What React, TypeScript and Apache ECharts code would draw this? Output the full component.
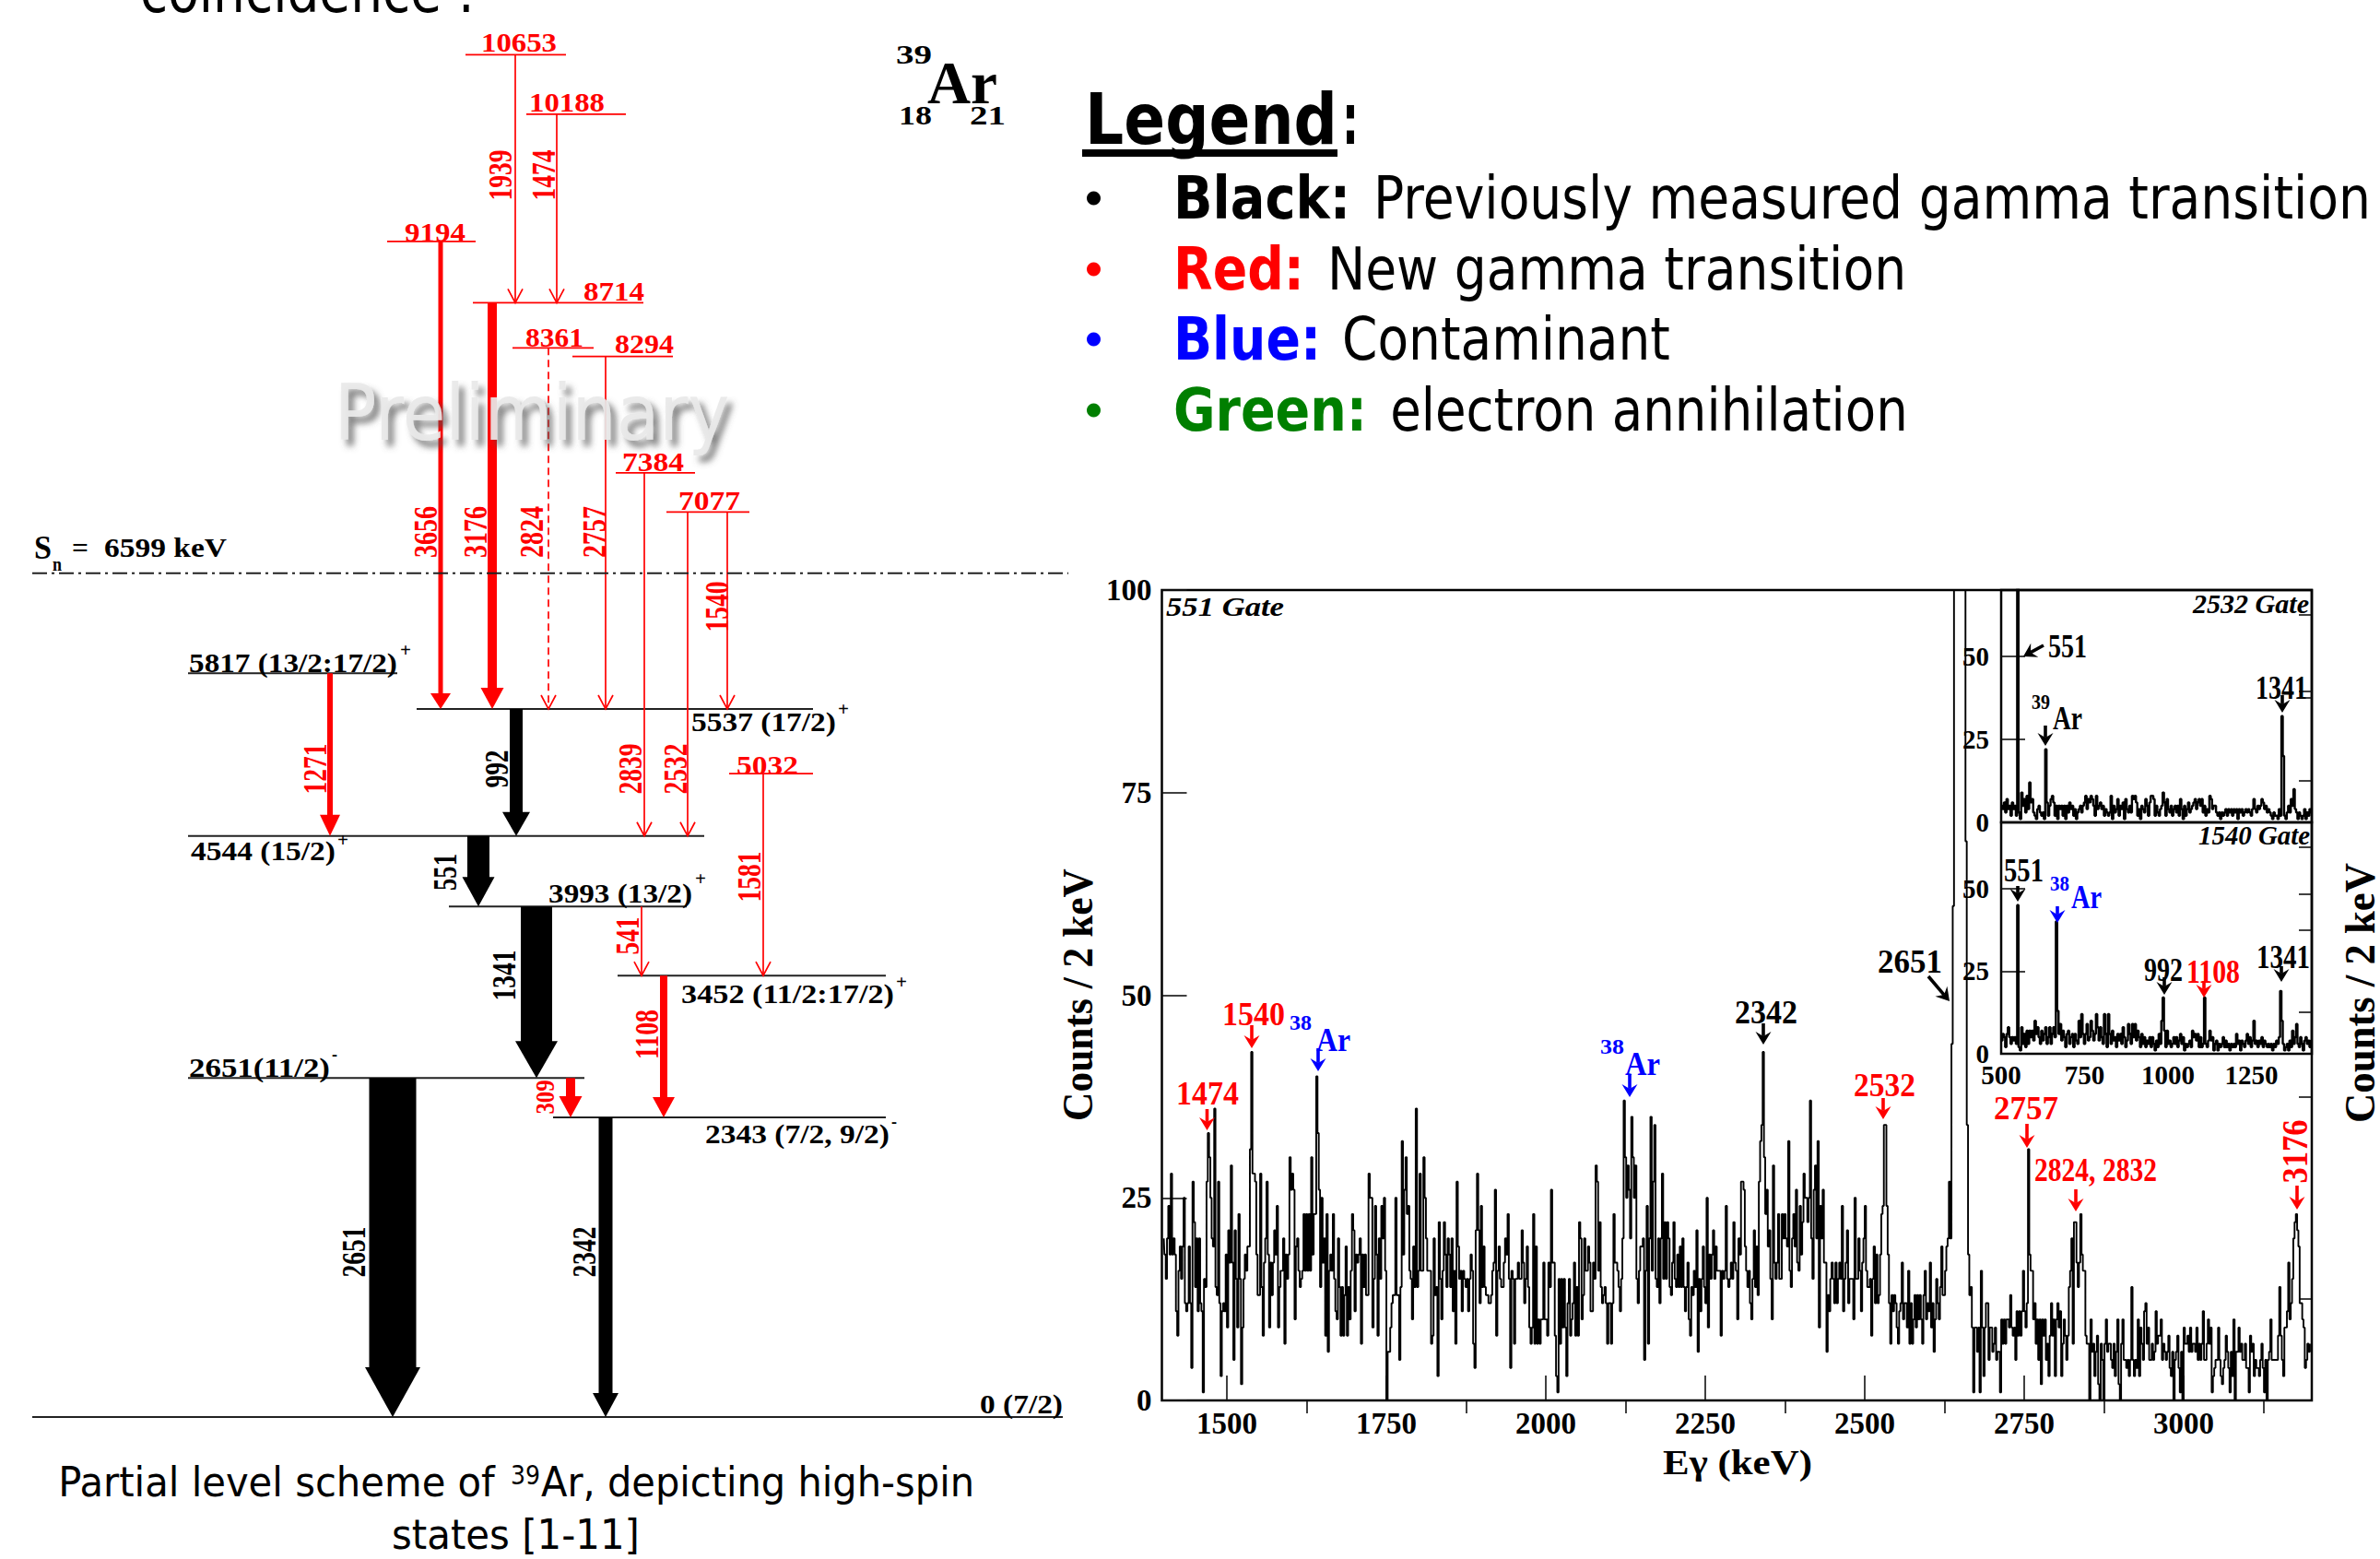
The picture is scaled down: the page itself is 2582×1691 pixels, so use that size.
import React, { useEffect, useRef } from "react";
import * as echarts from "echarts";

// ---------- spectrum 551 gate: counts per 2 keV channel, first channel 1401 keV
const gate551Part1 = [
  20,18,15,20,24,18,28,18,20,18, 11,8,16,19,15,19,25,12,11,12, 19,12,4,27,22,14,20,11,20,12,
  11,1,15,14,27,33,30,25,20,19, 36,14,13,27,12,3,11,12,11,18, 9,21,17,29,17,5,21,15,9,23,
  15,2,9,15,18,16,19,19,31,43, 28,28,27,18,13,13,28,14,8,17, 20,27,18,9,17,13,17,21,18,24,
  9,14,16,16,20,7,18,15,18,30, 26,28,26,10,19,20,16,14,15,16, 23,16,23,16,23,16,30,18,23,23,
  40,33,26,14,25,17,20,8,23,6, 16,18,16,23,15,11,10,20,14,8, 14,8,13,19,8,14,10,16,23,21,
  11,18,17,18,20,7,18,14,18,13, 13,28,25,25,9,15,24,18,8,20, 15,24,20,25,16,0,6,6,9,12,
  13,13,25,13,13,5,14,32,18,26, 30,23,24,16,15,10,19,14,36,14, 16,28,16,16,30,25,20,16,16,16,
  7,8,20,13,14,3,22,15,10,16, 22,18,14,20,18,14,
];
const gate551Part2 = [
  20,11,16,7,27,19,15,16,11,16, 15,14,15,11,15,18,16,7,4,21, 28,21,12,24,14,19,14,13,13,12,
  12,13,16,17,26,8,16,19,15,14, 14,17,20,18,23,15,4,16,15,7, 15,15,17,15,15,21,17,12,15,19,
  14,9,7,9,23,7,19,7,10,7, 10,10,17,10,10,8,17,14,26,17, 17,8,3,1,15,7,15,9,15,9,
  3,12,15,8,10,12,17,8,14,8, 22,20,10,13,20,16,16,19,17,11, 11,17,15,29,27,16,22,14,12,13,
  14,12,7,12,12,7,12,23,17,17, 16,14,11,15,20,37,30,25,29,26, 20,35,30,25,29,15,12,16,19,19,
  20,5,16,24,7,20,35,16,27,34, 15,14,20,12,20,28,15,22,15,22, 20,14,13,17,22,15,14,18,14,19,
  14,20,14,11,14,17,10,8,14,13, 16,14,21,6,15,11,15,19,14,12, 25,9,18,15,18,21,15,19,16,16,
  16,8,16,15,16,24,15,14,15,17, 15,22,17,16,10,20,18,27,
];
const gate551Part3 = [
  27,26,19,16,14,16,12,10,15,21, 14,19,13,27,32,34,43,30,23,26, 19,21,15,10,29,17,15,17,23,15,
  15,23,20,23,20,19,32,16,14,20, 23,19,26,17,16,24,18,22,28,25, 25,22,25,37,20,15,26,29,20,32,
  9,24,20,26,17,17,6,13,11,15, 17,15,12,17,12,15,17,15,24,11, 15,17,21,12,15,15,15,10,25,15,
  15,20,16,11,17,20,24,16,14,14, 15,8,15,19,12,18,12,13,18,23, 24,34,34,24,18,12,7,13,11,13,
  12,9,7,11,12,17,10,12,12,9, 16,7,12,7,10,13,9,13,10,13, 10,7,13,16,10,12,11,17,9,12,
  6,10,15,12,10,14,19,13,13,16, 19,20,27,20,44,61,250,250,250,250, 250,250,250,250,250,69,34,18,13,14,
  9,1,9,9,6,9,1,16,9,3, 9,12,12,5,9,9,6,7,9,5, 6,6,1,10,7,10,7,10,10,9,
  13,9,8,9,5,11,8,11,8,11, 16,11,9,12,31,18,16,16,
];
const gate551Part4 = [
  10,12,7,10,5,10,2,10,8,10, 5,7,3,8,12,8,10,3,10,12, 9,11,3,7,10,8,5,8,14,16,
  20,7,22,22,17,14,17,23,18,16, 16,8,7,7,0,10,6,7,3,6, 8,2,0,7,5,0,7,10,6,7,
  7,5,4,7,3,6,10,2,0,7, 10,5,5,4,5,3,5,14,5,3, 5,4,10,3,9,7,5,11,12,7,
  9,5,5,7,5,6,11,7,8,8, 10,5,7,6,5,6,8,4,3,6, 0,5,6,8,4,1,6,0,9,7,
  7,8,6,9,6,7,7,6,9,5, 7,5,7,11,5,5,7,10,7,9, 1,3,4,5,5,9,5,3,2,4,
  5,8,6,4,1,6,3,10,0,6, 6,9,6,7,5,5,7,4,4,1, 8,6,7,3,5,4,4,3,5,7,
  4,1,5,0,5,6,10,5,5,5, 5,5,8,14,8,5,3,9,9,11, 17,10,12,15,20,22,23,21,19,12,
  12,10,9,4,5,7,6,7,
];
const gate551Counts = [...gate551Part1, ...gate551Part2, ...gate551Part3, ...gate551Part4];

// ---------- insets: counts per 4 keV, first channel 500 keV
const gate2532Counts = [
  5,4,6,3,7,4,5,2,6,4, 5,2,200,3,1,9,5,7,3,8, 4,12,6,7,3,2,1,4,5,3, 2,3,1,22,6,2,5,7,8,6,
  2,5,1,5,4,5,2,5,1,5, 3,6,4,5,2,4,1,3,4,5, 3,5,6,8,4,7,6,8,7,5, 2,8,4,5,6,4,5,2,4,3,
  2,3,8,1,5,3,4,7,2,5, 4,6,1,7,4,3,5,3,8,7, 8,6,2,4,1,5,4,3,7,5, 2,6,8,8,7,2,5,3,2,4,
  5,9,6,2,7,4,3,5,2,4, 5,3,5,2,7,4,1,5,2,4, 6,3,4,5,6,7,4,6,7,5, 7,3,5,2,4,3,8,7,4,5,
  5,3,2,3,1,3,2,3,4,2, 4,3,4,2,4,3,4,1,4,3, 4,2,3,4,3,4,3,2,4,7, 4,3,5,4,5,7,6,4,5,3,
  4,3,2,1,3,2,2,1,4,2, 32,20,2,1,3,5,3,7,5,10, 4,3,1,3,2,1,2,4,1,3,2,4,3,
];
const gate1540Counts = [
  4,6,5,2,6,8,5,3,5,4, 5,3,45,2,1,8,3,6,2,7, 3,7,5,7,4,10,6,8,5,3, 7,4,6,8,3,5,8,3,6,8,
  5,40,13,6,9,4,7,5,2,6, 7,3,5,6,2,6,4,3,10,5, 12,6,3,6,9,4,5,10,7,4, 6,12,8,4,8,5,3,12,6,2,
  12,6,3,7,4,5,2,6,4,6, 3,8,5,2,4,9,6,3,9,5, 9,4,7,5,2,6,3,5,2,4, 3,5,2,5,3,1,4,2,6,3,
  10,17,7,2,7,3,4,2,3,5, 3,5,2,4,6,3,5,1,3,2, 3,4,2,7,5,6,4,6,2,5, 2,3,17,3,2,4,7,4,5,1,
  3,4,1,3,2,3,5,2,4,2, 3,1,3,2,3,2,6,3,4,1, 4,3,2,4,6,3,5,2,4,10, 3,4,2,4,3,5,2,4,3,2,
  3,2,3,1,3,2,4,3,5,19, 10,3,1,2,3,1,4,2,7,3, 5,9,3,2,5,3,1,4,5,3,4,2,4,
];

const mainXTicks = [1500, 1750, 2000, 2250, 2500, 2750, 3000];
const mainXMinor = [1625, 1875, 2125, 2375, 2625, 2875, 3125];
const mainYTicks = [0, 25, 50, 75, 100];
const mainYMinor = [12.5, 37.5, 62.5, 87.5];
const insetXTicks = [500, 750, 1000, 1250];
const insetYTicks = [0, 25, 50];
const insetYMinor = [12.5, 37.5, 62.5];

// ---------- level scheme (energy in keV)
const levelEnergy = [0, 2343, 2651, 3452, 3993, 4544, 5032, 5537, 5817, 7077, 7384, 8294, 8361, 8714, 9194, 10188, 10653];
const levelFrom = [35, 600, 204, 670, 487, 204, 791, 452, 204, 723, 668, 621, 556, 513, 420, 571, 505];
const levelTo = [1153, 961, 634, 961, 745, 764, 882, 882, 431, 813, 754, 730, 644, 698, 516, 679, 614];
const levelIsNew = [0, 0, 0, 0, 0, 0, 1, 0, 0, 1, 1, 1, 1, 1, 1, 1, 1];
const separationEnergy = 6599;

const gammaEnergy = [1939, 1474, 3656, 3176, 2824, 2757, 2839, 2532, 1540, 1271, 992, 551, 1341, 541, 1581, 1108, 309, 2651, 2342];
const gammaColumn = [559, 604, 478, 534, 595, 657, 699, 746, 789, 358, 560, 519, 582, 696, 828, 720, 619, 426, 657];
const gammaStart = [10653, 10188, 9194, 8714, 8361, 8294, 7384, 7077, 7077, 5817, 5537, 4544, 3993, 3993, 5032, 3452, 2651, 2651, 2343];
const gammaEnd = [8714, 8714, 5537, 5537, 5537, 5537, 4544, 4544, 5537, 4544, 4544, 3993, 2651, 3452, 3452, 2343, 2343, 0, 0];
const gammaIntensity = [0, 0, 5, 10, 0, 0, 0, 0, 0, 6, 14, 24, 34, 0, 0, 8, 10, 51, 15];
const gammaIsNew = [1, 1, 1, 1, 1, 1, 1, 1, 1, 1, 0, 0, 0, 1, 1, 1, 1, 0, 0];

// [head width, head length] of the filled arrows, by intensity
const headSize: Record<number, [number, number]> = {
  5: [22, 17], 6: [22, 23], 8: [24, 22], 10: [25, 23], 14: [30, 26], 15: [28, 26], 24: [35, 32], 34: [46, 40], 51: [60, 54],
};

const RED = "#ff0000";
const BLUE = "#0000ff";
const GREEN = "#007f00";
const SERIF = '"Liberation Serif"';
const SANS = '"DejaVu Sans"';

const ctx = document.createElement("canvas").getContext("2d") as CanvasRenderingContext2D;
function fit(text: string, font: string, target: number) {
  ctx.font = font;
  return target / ctx.measureText(text).width;
}
const Z = 50;

// horizontal text fitted between x0 and x1
function T(text: string, x0: number, x1: number, y: number, font: string, fill = "#000") {
  return {
    type: "text", x: (x0 + x1) / 2, y, z: Z, silent: true, scaleX: fit(text, font, x1 - x0),
    style: { text, font, fill, align: "center", verticalAlign: "middle" },
  };
}
// rotated text (reads upward), centred at x,y with the given length
function R(text: string, x: number, y: number, length: number, font: string, fill = "#000") {
  return {
    type: "text", x, y, z: Z, silent: true, rotation: Math.PI / 2, scaleX: fit(text, font, length),
    style: { text, font, fill, align: "center", verticalAlign: "middle" },
  };
}
// small annotation arrow
function A(x1: number, y1: number, x2: number, y2: number, fill = "#000", lw = 3.6, hw = 17, hl = 14) {
  const d = Math.hypot(x2 - x1, y2 - y1);
  const ux = (x2 - x1) / d, uy = (y2 - y1) / d;
  const bx = x2 - ux * hl, by = y2 - uy * hl;
  const nx = x2 - ux * hl * 0.65, ny = y2 - uy * hl * 0.65;
  return [
    { type: "line", z: Z, silent: true, shape: { x1, y1, x2: nx, y2: ny }, style: { stroke: fill, lineWidth: lw } },
    {
      type: "polygon", z: Z, silent: true,
      shape: { points: [[x2, y2], [bx - (uy * hw) / 2, by + (ux * hw) / 2], [nx, ny], [bx + (uy * hw) / 2, by - (ux * hw) / 2]] },
      style: { fill },
    },
  ];
}

const f27 = `bold 29px ${SERIF}`;
const f30 = `bold 30px ${SERIF}`;
const f36 = `bold 36px ${SERIF}`;
const f20 = `bold 20px ${SERIF}`;
const fa = `bold 35px ${SERIF}`;
const fs = `bold 24px ${SERIF}`;
const fi = `italic bold 29px ${SERIF}`;

function buildGraphics() {
  const g: any[] = [];
  // top cropped text
  g.push(T("coincidence :", 152, 515, -9, `64px ${SANS}`));
  // nuclide label
  g.push(T("39", 972, 1011, 59, f30), T("Ar", 1006, 1082, 90, `bold 66px ${SERIF}`), T("18", 975, 1011, 125, f30), T("21", 1052, 1091, 125, f30));
  // level labels, new
  g.push(
    T("10653", 522, 604, 46, f27, RED), T("10188", 574, 656, 111, f27, RED), T("9194", 439, 505, 252, f27, RED),
    T("8714", 633, 699, 316, f27, RED), T("8361", 570, 633, 366, f27, RED), T("8294", 667, 731, 374, f27, RED),
    T("7384", 675, 742, 501, f27, RED), T("7077", 736, 803, 543, f27, RED), T("5032", 799, 866, 830, f27, RED),
  );
  // level labels, known
  g.push(
    T("S", 37, 56, 594, f36), T("n", 57, 67, 612, f20), T("=", 78, 96, 594, f27), T("6599 keV", 113, 246, 594, f27),
    T("5817 (13/2:17/2)", 205, 431, 719, f27), T("+", 434, 446, 705, f20),
    T("5537 (17/2)", 750, 907, 783, f27), T("+", 909, 921, 769, f20),
    T("4544 (15/2)", 207, 364, 923, f27), T("+", 366, 378, 911, f20),
    T("3993 (13/2)", 595, 751, 969, f27), T("+", 754, 766, 953, f20),
    T("3452 (11/2:17/2)", 739, 970, 1078, f27), T("+", 972, 984, 1065, f20),
    T("2651(11/2)", 205, 358, 1158, f27), T("-", 360, 366, 1143, f20),
    T("2343 (7/2, 9/2)", 765, 965, 1230, f27), T("-", 967, 973, 1216, f20),
    T("0 (7/2)", 1063, 1153, 1523, f27),
  );
  // transition labels
  const rot: [string, number, number, number, string][] = [
    ["1939", 543, 190, 55, RED], ["1474", 590, 190, 55, RED], ["3656", 462, 577, 56, RED], ["3176", 516, 577, 56, RED],
    ["2824", 577, 577, 56, RED], ["2757", 645, 577, 56, RED], ["1540", 778, 658, 55, RED], ["1271", 342, 834, 55, RED],
    ["992", 539, 834, 41, "#000"], ["2839", 684, 834, 55, RED], ["2532", 733, 834, 55, RED], ["551", 483, 946, 40, "#000"],
    ["1581", 813, 951, 55, RED], ["1341", 547, 1058, 55, "#000"], ["541", 681, 1015, 41, RED], ["1108", 702, 1122, 54, RED],
    ["2651", 384, 1358, 55, "#000"], ["2342", 634, 1358, 55, "#000"],
  ];
  rot.forEach(([t, x, y, l, c]) => g.push(R(t, x, y, l, f36, c)));
  g.push(R("309", 591, 1190, 37, f30, RED));
  // watermark
  g.push({
    type: "text", x: 577, y: 448, z: Z + 1, silent: true, scaleX: fit("Preliminary", `84px ${SANS}`, 429),
    style: {
      text: "Preliminary", font: `84px ${SANS}`, fill: "rgba(232,232,232,0.92)", align: "center", verticalAlign: "middle",
      textShadowBlur: 7, textShadowColor: "rgba(80,80,80,0.8)", textShadowOffsetX: 6, textShadowOffsetY: 7,
    },
  });
  // caption
  const cf = `44px ${SANS}`;
  g.push(
    T("Partial level scheme of", 63, 537, 1608, cf), T("39", 554, 586, 1600, `28px ${SANS}`),
    T("Ar, depicting high-spin", 587, 1057, 1608, cf), T("states [1-11]", 425, 694, 1665, cf),
  );
  // legend
  const lf = `64px ${SANS}`, lb = `bold 64px ${SANS}`;
  g.push(
    T("Legend", 1177, 1451, 130, `bold 76px ${SANS}`), T(":", 1456, 1474, 130, `bold 76px ${SANS}`),
    { type: "rect", z: Z, silent: true, shape: { x: 1174, y: 162, width: 277, height: 8 }, style: { fill: "#000" } },
    T("Black:", 1273, 1465, 215, lb), T("Previously measured gamma transition", 1490, 2572, 215, lf),
    T("Red:", 1273, 1415, 292, lb, RED), T("New gamma transition", 1440, 2068, 292, lf),
    T("Blue:", 1273, 1433, 368, lb, BLUE), T("Contaminant", 1456, 1812, 368, lf),
    T("Green:", 1273, 1483, 445, lb, GREEN), T("electron annihilation", 1508, 2070, 445, lf),
  );
  ([[215, "#000"], [292, RED], [368, BLUE], [445, GREEN]] as [number, string][]).forEach(([y, c]) =>
    g.push({ type: "circle", z: Z, silent: true, shape: { cx: 1186.5, cy: y, r: 7.5 }, style: { fill: c } }),
  );
  // spectrum titles
  g.push(
    R("Counts / 2 keV", 1170, 1079, 274, `bold 46px ${SERIF}`), R("Counts / 2 keV", 2561, 1077, 282, `bold 46px ${SERIF}`),
    T("Eγ (keV)", 1804, 1966, 1586, `bold 38px ${SERIF}`),
    T("551 Gate", 1265, 1393, 658, fi), T("2532 Gate", 2379, 2505, 655, fi), T("1540 Gate", 2385, 2506, 906, fi),
  );
  // spectrum annotations
  g.push(
    T("1474", 1276, 1344, 1186, fa, RED), ...A(1309.5, 1203, 1309.5, 1226, RED),
    T("1540", 1326, 1394, 1100, fa, RED), ...A(1358, 1112, 1358, 1137, RED),
    T("38", 1399, 1423, 1109, fs, BLUE), T("Ar", 1428, 1465, 1128, fa, BLUE), ...A(1430, 1137, 1430, 1162, BLUE),
    T("38", 1736, 1762, 1135, fs, BLUE), T("Ar", 1763, 1801, 1154, fa, BLUE), ...A(1768, 1165, 1768, 1190, BLUE),
    T("2342", 1882, 1950, 1098, fa), ...A(1913, 1110, 1913, 1133),
    T("2532", 2011, 2078, 1177, fa, RED), ...A(2043, 1191, 2043, 1214, RED),
    T("2651", 2037, 2107, 1043, fa), ...A(2092, 1059, 2115, 1086),
    T("2757", 2163, 2233, 1202, fa, RED), ...A(2199, 1219, 2199, 1245, RED),
    T("2824, 2832", 2207, 2340, 1269, fa, RED), ...A(2252, 1290, 2252, 1314, RED),
    R("3176", 2490, 1249, 69, `bold 40px ${SERIF}`, RED), ...A(2492, 1286, 2492, 1312, RED),
    T("551", 2222, 2264, 701, fa), ...A(2217, 700, 2195, 712),
    T("39", 2204, 2224, 761, fs), T("Ar", 2227, 2259, 779, fa), ...A(2219, 787, 2219, 809),
    T("1341", 2447, 2503, 746, fa), ...A(2476, 754, 2476, 773),
    T("551", 2174, 2217, 945, fa), ...A(2189, 961, 2189, 978),
    T("38", 2224, 2245, 958, fs, BLUE), T("Ar", 2247, 2280, 973, fa, BLUE), ...A(2232, 983, 2232, 1001, BLUE),
    T("992", 2326, 2368, 1052, fa), ...A(2348, 1060, 2348, 1079),
    T("1108", 2372, 2430, 1054, fa, RED), ...A(2391, 1064, 2391, 1082, RED),
    T("1341", 2448, 2506, 1038, fa), ...A(2475, 1048, 2475, 1065),
  );
  return g;
}

function renderLevel(params: any, api: any) {
  const i = params.dataIndex;
  const a = api.coord([api.value(0), api.value(1)]);
  const b = api.coord([api.value(2), api.value(1)]);
  return {
    type: "line", silent: true,
    shape: { x1: a[0], y1: a[1], x2: b[0], y2: b[1] },
    style: { stroke: levelIsNew[i] ? RED : "#222", lineWidth: levelIsNew[i] ? 1.8 : 2 },
  };
}

function renderGamma(params: any, api: any) {
  const i = params.dataIndex;
  const top = api.coord([api.value(0), api.value(1)]);
  const tip = api.coord([api.value(0), api.value(2)]);
  const x = top[0];
  const color = gammaIsNew[i] ? RED : "#000";
  const w = gammaIntensity[i];
  if (w === 0) {
    return {
      type: "group", silent: true,
      children: [
        { type: "line", shape: { x1: x, y1: top[1], x2: x, y2: tip[1] }, style: { stroke: color, lineWidth: 1.7, lineDash: gammaEnergy[i] === 2824 ? [8, 5] : undefined } },
        { type: "polyline", shape: { points: [[x - 8, tip[1] - 15], [x, tip[1]], [x + 8, tip[1] - 15]] }, style: { stroke: color, lineWidth: 1.7, fill: "none" } },
      ],
    };
  }
  const [hw, hl] = headSize[w];
  return {
    type: "group", silent: true,
    children: [
      { type: "rect", shape: { x: x - w / 2, y: top[1], width: w, height: tip[1] - hl - top[1] + 1 }, style: { fill: color } },
      { type: "polygon", shape: { points: [[x - hw / 2, tip[1] - hl], [x + hw / 2, tip[1] - hl], [x, tip[1]]] }, style: { fill: color } },
    ],
  };
}

const plain = (v: number) => String(v);
function valueAxis(gridIndex: number, min: number, max: number, ticks: number[], length: number, labelFont: number, labelMargin: number, labels: boolean) {
  return {
    type: "value", gridIndex, min, max,
    splitLine: { show: false }, axisLine: { show: false },
    axisTick: { show: length > 0, inside: true, length, customValues: ticks, lineStyle: { color: "#111", width: 1.6 } },
    axisLabel: {
      show: labels, customValues: ticks, margin: labelMargin, color: "#000", formatter: plain,
      fontFamily: "Liberation Serif", fontWeight: "bold", fontSize: labelFont, hideOverlap: false,
    },
  };
}

export default function App() {
  const ref = useRef<HTMLDivElement>(null);
  useEffect(() => {
    const chart = echarts.init(ref.current as HTMLDivElement, undefined, { renderer: "svg", width: 2582, height: 1691 });
    const frame = { show: true, borderColor: "#000", borderWidth: 2.5, backgroundColor: "transparent" };
    const mainData = gate551Counts.map((c, i) => [1401 + 2 * i, c]);
    const topData = gate2532Counts.map((c, i) => [502 + 4 * i, c]);
    const lowData = gate1540Counts.map((c, i) => [502 + 4 * i, c]);
    chart.setOption({
      animation: false,
      backgroundColor: "#fff",
      grid: [
        { left: 0, top: 0, width: 1170, height: 1537, show: false },
        { left: 1260.5, top: 640, width: 1247.5, height: 879, ...frame },
        { left: 2171, top: 640, width: 337, height: 252, ...frame },
        { left: 2171, top: 892, width: 337, height: 251, ...frame },
      ],
      xAxis: [
        { type: "value", gridIndex: 0, min: 0, max: 1170, show: false },
        valueAxis(1, 1398, 3201, mainXTicks, 27, 33, 8, true),
        valueAxis(1, 1398, 3201, mainXMinor, 14, 33, 8, false),
        { type: "value", gridIndex: 2, min: 500, max: 1431, show: false },
        valueAxis(3, 500, 1431, insetXTicks, 0, 29, 8, true),
      ],
      yAxis: [
        { type: "value", gridIndex: 0, min: 0, max: 1537 / 0.1387, show: false },
        valueAxis(1, 0, 100, mainYTicks, 27, 33, 11, true),
        valueAxis(1, 0, 100, mainYMinor, 14, 33, 11, false),
        valueAxis(2, 0, 70, insetYTicks, 26, 29, 13, true),
        valueAxis(2, 0, 70, insetYMinor, 14, 29, 13, false),
        valueAxis(3, 0, 70, insetYTicks, 26, 29, 13, true),
        valueAxis(3, 0, 70, insetYMinor, 14, 29, 13, false),
      ],
      graphic: { elements: buildGraphics() },
      series: [
        {
          type: "custom", name: "levels", xAxisIndex: 0, yAxisIndex: 0, clip: false, silent: true,
          encode: { x: [0, 2], y: 1 }, renderItem: renderLevel,
          data: levelEnergy.map((e, i) => [levelFrom[i], e, levelTo[i]]),
        },
        {
          type: "custom", name: "transitions", xAxisIndex: 0, yAxisIndex: 0, clip: false, silent: true,
          encode: { x: 0, y: [1, 2] }, renderItem: renderGamma,
          data: gammaEnergy.map((_, i) => [gammaColumn[i], gammaStart[i], gammaEnd[i]]),
        },
        {
          type: "line", name: "Sn", xAxisIndex: 0, yAxisIndex: 0, symbol: "none", silent: true,
          lineStyle: { color: "#222", width: 2, type: [16, 5, 3, 5] },
          data: [[35, separationEnergy], [1159, separationEnergy]],
        },
        {
          type: "line", name: "551 Gate", xAxisIndex: 1, yAxisIndex: 1, step: "middle", symbol: "none", silent: true,
          lineStyle: { color: "#000", width: 1.9 }, data: mainData,
        },
        {
          type: "line", name: "2532 Gate", xAxisIndex: 3, yAxisIndex: 3, step: "middle", symbol: "none", silent: true,
          lineStyle: { color: "#000", width: 2.4 }, data: topData,
        },
        {
          type: "line", name: "1540 Gate", xAxisIndex: 4, yAxisIndex: 5, step: "middle", symbol: "none", silent: true,
          lineStyle: { color: "#000", width: 2.4 }, data: lowData,
        },
      ],
    });
    return () => chart.dispose();
  }, []);
  return <div ref={ref} style={{ position: "absolute", left: 0, top: 0, width: 2582, height: 1691, background: "#fff" }} />;
}
